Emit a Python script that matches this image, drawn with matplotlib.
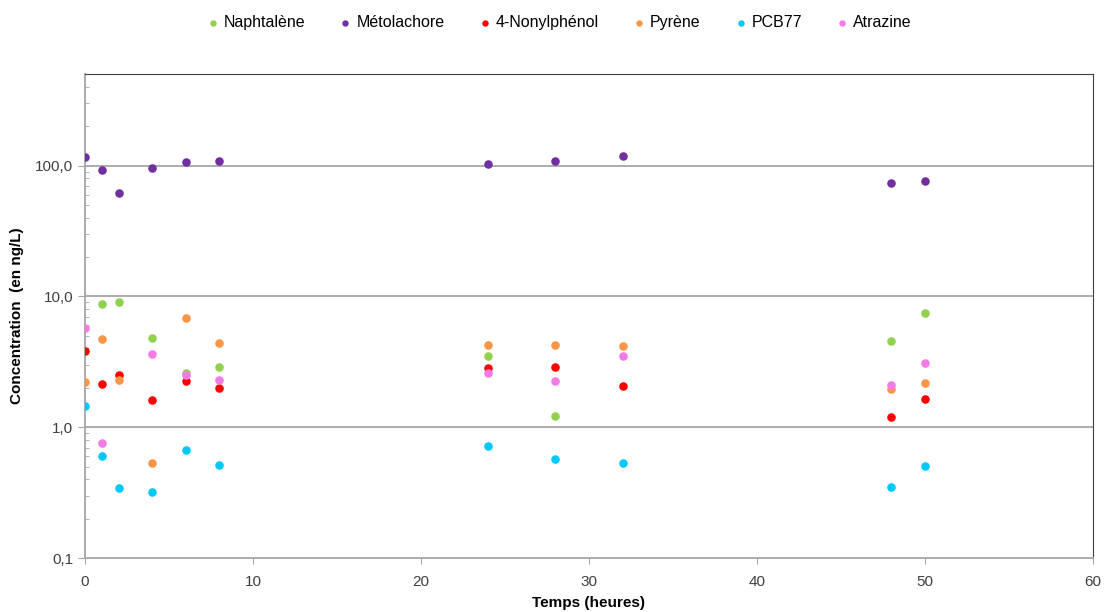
import numpy as np
import matplotlib.pyplot as plt
from matplotlib.ticker import FixedLocator, FixedFormatter, LogLocator, NullFormatter

plt.rcParams['font.family'] = ['Liberation Sans', 'DejaVu Sans']

# temps (heures) et concentrations (ng/L)
t_naph = [1, 2, 4, 6, 8, 24, 28, 48, 50]
naphtalene = [8.7, 9.1, 4.8, 2.58, 2.9, 3.5, 1.23, 4.56, 7.5]

t_all = [0, 1, 2, 4, 6, 8, 24, 28, 32, 48, 50]
metolachore = [117, 93, 62, 96, 107, 109, 102, 109, 119, 73, 76]
nonylphenol = [3.8, 2.13, 2.52, 1.62, 2.27, 1.99, 2.84, 2.89, 2.08, 1.2, 1.64]
pyrene = [2.23, 4.7, 2.3, 0.534, 6.8, 4.38, 4.25, 4.25, 4.2, 1.95, 2.17]
pcb77 = [1.45, 0.604, 0.342, 0.323, 0.667, 0.519, 0.72, 0.577, 0.534, 0.347, 0.507]

t_atra = [0, 1, 4, 6, 8, 24, 28, 32, 48, 50]
atrazine = [5.7, 0.764, 3.6, 2.52, 2.31, 2.6, 2.27, 3.5, 2.12, 3.12]

series = [
    ("Naphtalène", t_naph, naphtalene, "#92D050"),
    ("Métolachore", t_all, metolachore, "#7030A0"),
    ("4-Nonylphénol", t_all, nonylphenol, "#FF0000"),
    ("Pyrène", t_all, pyrene, "#F79646"),
    ("PCB77", t_all, pcb77, "#00C8F8"),
    ("Atrazine", t_atra, atrazine, "#F27BE6"),
]

fig = plt.figure(figsize=(11.04, 6.12), dpi=100)
ax = fig.add_axes([0.077, 0.088, 0.913, 0.791])

for name, t, v, c in series:
    ax.scatter(t, v, s=38, color=c, label=name, zorder=3, linewidths=0)

ax.set_yscale('log')
ax.set_ylim(0.1, 500)
ax.set_xlim(0, 60)

yt = [0.1, 1, 10, 100]
ax.yaxis.set_major_locator(FixedLocator(yt))
ax.yaxis.set_major_formatter(FixedFormatter(["0,1", "1,0", "10,0", "100,0"]))
ax.yaxis.set_minor_locator(LogLocator(base=10, subs=np.arange(2, 10)))
ax.yaxis.set_minor_formatter(NullFormatter())
ax.set_xticks(np.arange(0, 61, 10))

for y in [1, 10, 100]:
    ax.axhline(y, color='#A6A6A6', lw=1.3, zorder=1)

ax.tick_params(axis='y', which='major', direction='out', length=5, color='#A6A6A6',
               labelsize=11, labelcolor='#404040')
ax.tick_params(axis='y', which='minor', direction='in', length=3, color='#A6A6A6')
ax.tick_params(axis='x', which='major', direction='out', length=4, color='#A6A6A6',
               labelsize=11, labelcolor='#404040', pad=8)

ax.spines['left'].set_color('#A6A6A6')
ax.spines['bottom'].set_color('#A6A6A6')
ax.spines['left'].set_linewidth(1.3)
ax.spines['bottom'].set_linewidth(1.3)
ax.spines['top'].set_color('#404040')
ax.spines['right'].set_color('#404040')

ax.set_ylabel("Concentration  (en ng/L)", fontsize=11, fontweight='bold', labelpad=8)
ax.set_xlabel("Temps (heures)", fontsize=11, fontweight='bold', labelpad=5)

fig.legend(loc='center', bbox_to_anchor=(0.505, 0.963), ncol=6, frameon=False,
           fontsize=11.5, markerscale=0.75, handletextpad=0.1, columnspacing=1.9,
           handlelength=1.2)

plt.savefig('out.png', dpi=100)
